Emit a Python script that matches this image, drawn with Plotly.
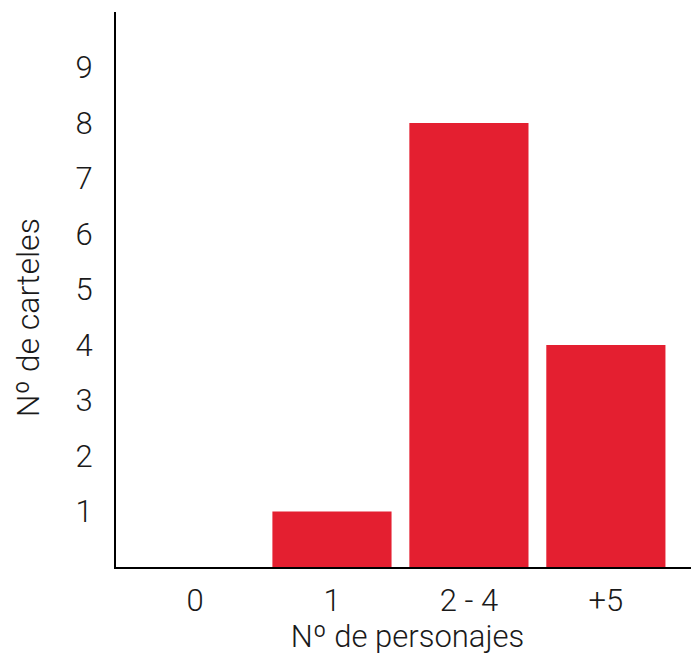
import plotly.graph_objects as go

categories = ["0", "1", "2 - 4", "+5"]
values = [0, 1, 8, 4]
y_ticks = [1, 2, 3, 4, 5, 6, 7, 8, 9]

x_title = "Nº de personajes"
y_title = "Nº de carteles"

bar_color = "#E41F30"
font_family = "Roboto, Liberation Sans, Arial, sans-serif"

fig = go.Figure()
fig.add_trace(go.Bar(
    x=list(range(len(categories))),
    y=values,
    width=0.87,
    marker=dict(color=bar_color, line=dict(width=0)),
    showlegend=False,
))

fig.update_layout(
    width=691, height=647,
    margin=dict(l=108, r=0, t=4, b=88),
    paper_bgcolor="white", plot_bgcolor="white",
    font=dict(family=font_family, size=31, color="#1a1a1a", weight=300),
    xaxis=dict(
        range=[-0.577, 3.68],
        tickmode="array",
        tickvals=list(range(len(categories))),
        ticktext=categories,
        showline=True, linecolor="black", linewidth=2,
        showgrid=False, zeroline=False,
        ticks="", ticklabelstandoff=5,
        title=dict(text=x_title, font=dict(size=31, weight=300), standoff=14),
    ),
    yaxis=dict(
        range=[0, 10],
        tickmode="array",
        tickvals=y_ticks,
        showline=True, linecolor="black", linewidth=2,
        showgrid=False, zeroline=False,
        ticks="", ticklabelstandoff=15,
    ),
    annotations=[dict(
        text=y_title, textangle=-90,
        xref="paper", yref="paper", x=-0.151, y=0.45,
        xanchor="center", yanchor="middle", showarrow=False,
        font=dict(size=32, weight=300, color="#1a1a1a"),
    )],
)

fig.write_html("out.html")
